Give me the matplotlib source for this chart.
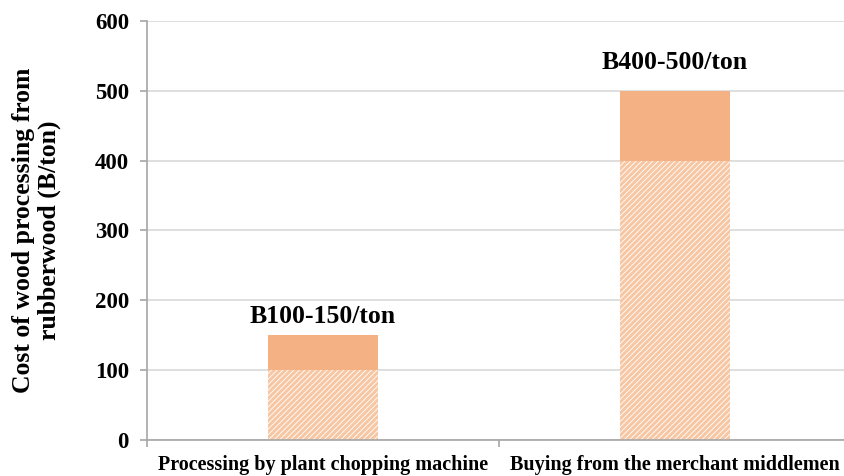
import matplotlib.pyplot as plt
import matplotlib as mpl

categories = ["Processing by plant chopping machine", "Buying from the merchant middlemen"]
low_cost = [100, 400]
high_cost = [150, 500]
range_labels = ["B100-150/ton", "B400-500/ton"]

plt.rcParams['font.family'] = ['Liberation Serif', 'DejaVu Serif']
plt.rcParams['font.weight'] = 'bold'
plt.rcParams['hatch.linewidth'] = 2.2

fig = plt.figure(figsize=(8.45, 4.76), dpi=100)
ax = fig.add_axes([0.174, 0.0756, 0.826, 0.8804])

x = list(range(len(categories)))
extra = [h - l for h, l in zip(high_cost, low_cost)]

ax.bar(x, low_cost, width=0.31, color='white', edgecolor='#F7C6A3',
       linewidth=0, hatch='//////', zorder=2)
ax.bar(x, extra, bottom=low_cost, width=0.31, color='#F4B183',
       linewidth=0, zorder=2)

# label offsets (points) differ a bit in the original
offsets = [5, 12]
for xi, top, lab, off in zip(x, high_cost, range_labels, offsets):
    ax.annotate(lab, (xi, top), xytext=(0, off), textcoords='offset points',
                ha='center', va='bottom', fontsize=18.5, fontweight='bold')

ax.set_ylim(0, 600)
ax.set_xlim(-0.5, 1.483)
ax.set_yticks(range(0, 601, 100))
ax.tick_params(axis='y', labelsize=16.5, length=5, color='#A6A6A6', width=1.2, pad=8)
ax.set_xticks(x)
ax.set_xticklabels(categories, fontsize=14.5, fontweight='bold')
ax.tick_params(axis='x', length=0, pad=11)
# category boundary ticks
ax.set_xticks([-0.5, 0.5], minor=True)
ax.tick_params(axis='x', which='minor', length=5, color='#A6A6A6', width=1.2)

ax.yaxis.grid(True, color='#D9D9D9', linewidth=1.2, zorder=0)
ax.set_axisbelow(True)
for s in ['top', 'right']:
    ax.spines[s].set_visible(False)
for s in ['left', 'bottom']:
    ax.spines[s].set_color('#A6A6A6')
    ax.spines[s].set_linewidth(1.2)

ax.set_ylabel("Cost of wood processing from\nrubberwood (B/ton)", fontsize=18.5,
              fontweight='bold', labelpad=24, linespacing=1.15)

fig.savefig('out.png', dpi=100)
